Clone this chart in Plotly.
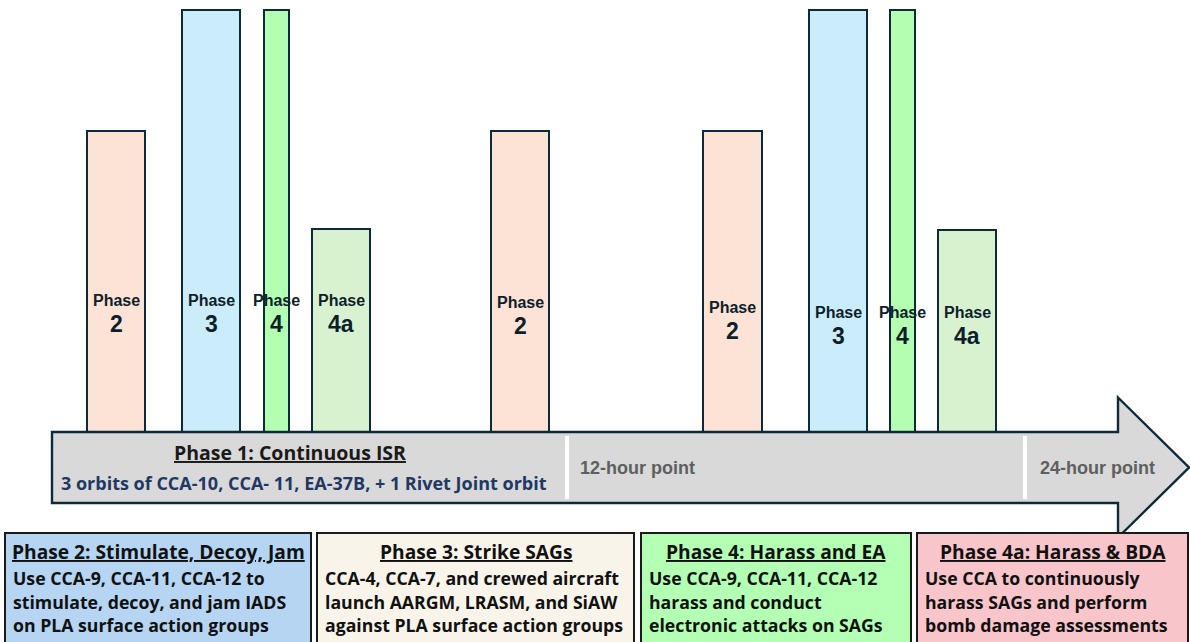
import plotly.graph_objects as go

# ---- data -----------------------------------------------------------------
bar_phase = ["2", "3", "4", "4a", "2", "2", "3", "4", "4a"]
bar_height = [301, 422, 422, 203, 301, 301, 422, 422, 202]

box_titles = [
    "Phase 2: Stimulate, Decoy, Jam",
    "Phase 3: Strike SAGs",
    "Phase 4: Harass and EA",
    "Phase 4a: Harass & BDA",
]
box_lines = [
    ["Use CCA-9, CCA-11, CCA-12 to",
     "stimulate, decoy, and jam IADS",
     "on PLA surface action groups"],
    ["CCA-4, CCA-7, and crewed aircraft",
     "launch AARGM, LRASM, and SiAW",
     "against PLA surface action groups"],
    ["Use CCA-9, CCA-11, CCA-12",
     "harass and conduct",
     "electronic attacks on SAGs"],
    ["Use CCA to continuously",
     "harass SAGs and perform",
     "bomb damage assessments"],
]
phase1_title = "Phase 1: Continuous ISR"
phase1_text = "3 orbits of CCA-10, CCA- 11, EA-37B, + 1 Rivet Joint orbit"
time_marks = ["12-hour point", "24-hour point"]

# ---- layout geometry (canvas units, y measured upward) --------------------
W, H = 1190, 642
def Y(p):
    return H - p

bar_center = [116, 211, 276.5, 341, 520, 732.5, 838, 902.5, 967]
bar_width = [58, 58, 25, 58, 58, 59, 58, 25, 58]
label_y = [300, 300, 300, 300, 302, 307, 312, 312, 312]
base = Y(432)

fill_for = {"2": "#fce3d6", "3": "#cbedfb", "4": "#b3feb0", "4a": "#d8f2d0"}
edge = "#0d2a3a"

fig = go.Figure()
fig.add_trace(go.Bar(
    x=bar_center, y=bar_height, width=bar_width, base=base,
    marker=dict(color=[fill_for[p] for p in bar_phase],
                line=dict(color=edge, width=2)),
    hoverinfo="skip", showlegend=False,
))

shapes = []
# timeline arrow
ax0, ax1 = 52, 1118
top, bot = Y(432), Y(503)
mid = (top + bot) / 2
head = 70
shapes.append(dict(
    type="path", layer="above",
    path=(f"M{ax0},{top} L{ax1},{top} L{ax1},{mid + head} L1189,{mid} "
          f"L{ax1},{mid - head} L{ax1},{bot} L{ax0},{bot} Z"),
    fillcolor="#d9d9d9", line=dict(color=edge, width=2.4),
))
for sx in (567, 1025):
    shapes.append(dict(type="line", layer="above", x0=sx, x1=sx,
                       y0=Y(436), y1=Y(499),
                       line=dict(color="white", width=4)))

# phase description boxes
box_x = [(5, 311), (317, 634), (641, 911), (917, 1188)]
box_fill = ["#b5d5f3", "#f8f4ea", "#b3ffb3", "#f8c5ca"]
for (x0, x1), fc in zip(box_x, box_fill):
    shapes.append(dict(type="rect", layer="above", x0=x0, x1=x1,
                       y0=Y(533), y1=Y(650),
                       fillcolor=fc, line=dict(color="#1a1a1a", width=2)))

ann = []
# bar labels
lab_font = "Liberation Sans"
for c, ly, p in zip(bar_center, label_y, bar_phase):
    ann.append(dict(x=c, y=Y(ly), text="<b>Phase</b>", showarrow=False,
                    font=dict(family=lab_font, size=16, color="#0f1e2b")))
    ann.append(dict(x=c, y=Y(ly + 24), text=f"<b>{p}</b>", showarrow=False,
                    font=dict(family=lab_font, size=23, color="#0f1e2b")))

txt_font = "Open Sans"
ann.append(dict(x=290, y=Y(452), text=f"<b><u>{phase1_title}</u></b>",
                showarrow=False, font=dict(family=txt_font, size=19.5, color="#1a1a1a")))
ann.append(dict(x=304, y=Y(483), text=f"<b>{phase1_text}</b>",
                showarrow=False, font=dict(family=txt_font, size=18, color="#1f3864")))
for tx, t in zip((578, 1038), time_marks):
    ann.append(dict(x=tx, y=Y(468), text=f"<b>{t}</b>", xanchor="left",
                    showarrow=False,
                    font=dict(family=lab_font, size=18, color="#5f5f5f")))

for (x0, x1), title, lines in zip(box_x, box_titles, box_lines):
    ann.append(dict(x=(x0 + x1) / 2, y=Y(551), text=f"<b><u>{title}</u></b>",
                    showarrow=False, font=dict(family=txt_font, size=19.2, color="#111111")))
    for i, ln in enumerate(lines):
        ann.append(dict(x=x0 + 6, y=Y(578 + i * 23.5), text=f"<b>{ln}</b>",
                        xanchor="left", showarrow=False,
                        font=dict(family=txt_font, size=17.7, color="#111111")))

fig.update_layout(
    width=W, height=H, margin=dict(l=0, r=0, t=0, b=0),
    paper_bgcolor="white", plot_bgcolor="white",
    barmode="overlay",
    xaxis=dict(range=[0, W], visible=False, fixedrange=True),
    yaxis=dict(range=[0, H], visible=False, fixedrange=True),
    shapes=shapes, annotations=ann,
)

fig.write_html("out.html")
